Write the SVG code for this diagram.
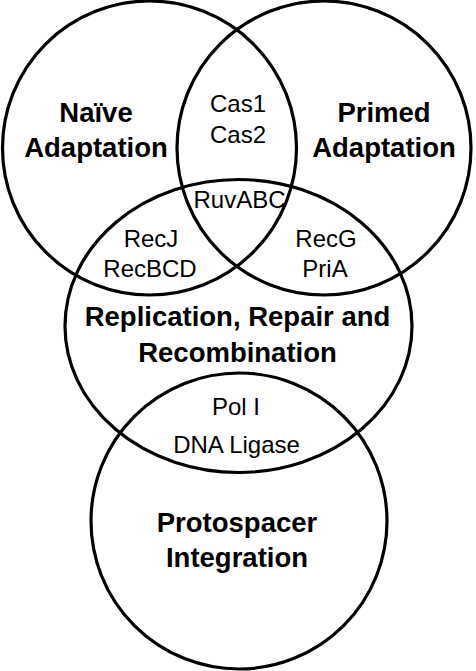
<svg xmlns="http://www.w3.org/2000/svg" width="476" height="671" viewBox="0 0 476 671">
<style>
.set{fill:none;stroke:#000;stroke-width:3.2}
.t{font-family:"Liberation Sans",Arial,sans-serif;fill:#000;text-anchor:middle}
.b{font-weight:bold;font-size:27.5px}
.r{font-size:24px}
</style>
<rect width="476" height="671" fill="#fff"/>
<g id="naive">
<circle class="set" cx="149.5" cy="148" r="147"/>
<text class="t b" x="96" y="122">Naïve</text>
<text class="t b" x="96" y="157">Adaptation</text>
</g>
<g id="primed">
<circle class="set" cx="324" cy="148" r="147"/>
<text class="t b" x="384" y="122">Primed</text>
<text class="t b" x="384" y="157">Adaptation</text>
</g>
<g id="rrr">
<ellipse class="set" cx="238.5" cy="326" rx="173.5" ry="146.5"/>
<text class="t b" x="237.5" y="326">Replication, Repair and</text>
<text class="t b" x="237.5" y="362">Recombination</text>
</g>
<g id="integration">
<circle class="set" cx="239" cy="521" r="148"/>
<text class="t b" x="237" y="532">Protospacer</text>
<text class="t b" x="237" y="567">Integration</text>
</g>
<g id="labels">
<text class="t r" x="238" y="112">Cas1</text>
<text class="t r" x="238" y="143">Cas2</text>
<text class="t r" x="239.5" y="208">RuvABC</text>
<text class="t r" x="151" y="247">RecJ</text>
<text class="t r" x="150" y="277">RecBCD</text>
<text class="t r" x="326" y="247">RecG</text>
<text class="t r" x="325" y="277">PriA</text>
<text class="t r" x="236" y="415">Pol I</text>
<text class="t r" x="236.5" y="453">DNA Ligase</text>
</g>
<g id="connectors"></g>
</svg>
